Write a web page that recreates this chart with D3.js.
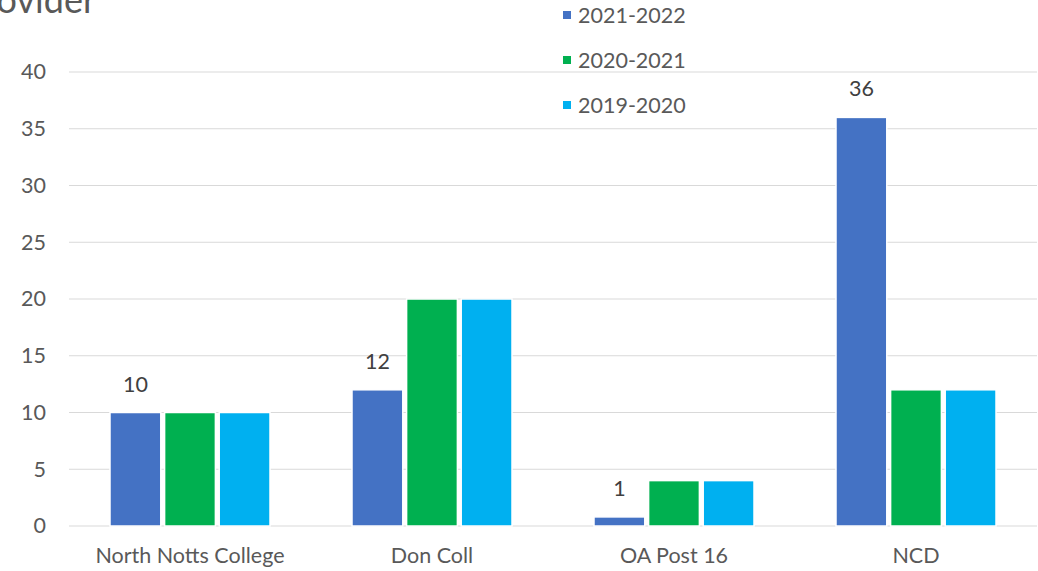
<!DOCTYPE html>
<html>
<head>
<meta charset="utf-8">
<script src="https://cdn.jsdelivr.net/npm/d3@7"></script>
<style>
  body { margin: 0; background: #fff; }
  text { font-family: Lato, "Open Sans", sans-serif; }
</style>
</head>
<body>
<div id="chart"></div>
<script>
const providers = ['North Notts College', 'Don Coll', 'OA Post 16', 'NCD']
const seriesNames = ['2021-2022', '2020-2021', '2019-2020']
const values2122 = [10, 12, 0.8, 36]
const values2021 = [10, 20, 4, 12]
const values1920 = [10, 20, 4, 12]
const labels2122 = ['10', '12', '1', '36']
const yTicks = [0, 5, 10, 15, 20, 25, 30, 35, 40]
const colors = ['#4472C4', '#00B050', '#00B0F0']

const fullWidth = 1038
const fullHeight = 571
const margin = { top: 72, right: 1, bottom: 45, left: 69 }
const width = fullWidth - margin.left - margin.right
const height = fullHeight - margin.top - margin.bottom
const fontSize = 21.5
const groupWidth = 160

const svg = d3.select('#chart')
    .append('svg')
    .attr('width', fullWidth)
    .attr('height', fullHeight)

// title, cut off at the left edge like in the source
svg.append('text')
    .attr('x', 96)
    .attr('y', 13)
    .attr('text-anchor', 'end')
    .attr('font-size', 36)
    .attr('fill', '#595959')
    .text('Provider')

const g = svg.append('g')
    .attr('transform', 'translate(' + margin.left + ',' + margin.top + ')')

const x = d3.scaleBand().domain(providers).range([0, width])
const xs = d3.scaleBand().domain(seriesNames).range([0, groupWidth]).paddingInner(0.07)
const y = d3.scaleLinear().domain([0, 40]).range([height, 0])

// gridlines
g.append('g')
    .selectAll('line')
    .data(yTicks)
    .enter().append('line')
    .attr('x1', 0)
    .attr('x2', width)
    .attr('y1', d => y(d))
    .attr('y2', d => y(d))
    .attr('stroke', '#d9d9d9')
    .attr('stroke-width', 1.2)

// y labels
g.append('g')
    .call(d3.axisLeft(y).tickValues(yTicks).tickSize(0).tickPadding(23))
    .call(a => a.select('.domain').remove())
    .selectAll('text')
    .attr('font-size', fontSize)
    .attr('fill', '#595959')
    .style('font-family', 'Lato, sans-serif')

// x labels
g.append('g')
    .attr('transform', 'translate(0,' + height + ')')
    .call(d3.axisBottom(x).tickSize(0).tickPadding(22))
    .call(a => a.select('.domain').remove())
    .selectAll('text')
    .attr('font-size', fontSize)
    .attr('fill', '#595959')
    .style('font-family', 'Lato, sans-serif')

const table = providers.map((p, i) => ({
    provider: p,
    vals: [values2122[i], values2021[i], values1920[i]]
}))

const groupOffset = (x.bandwidth() - groupWidth) / 2

const groups = g.selectAll('.grp')
    .data(table)
    .enter().append('g')
    .attr('class', 'grp')
    .attr('transform', d => 'translate(' + (x(d.provider) + groupOffset) + ',0)')

groups.selectAll('rect')
    .data(d => d.vals.map((v, k) => ({ v: v, s: seriesNames[k], k: k })))
    .enter().append('rect')
    .attr('x', d => xs(d.s))
    .attr('y', d => y(d.v))
    .attr('width', xs.bandwidth())
    .attr('height', d => height - y(d.v))
    .attr('fill', d => colors[d.k])
    .attr('stroke', '#fff')
    .attr('stroke-width', 1.5)

// data labels for the first series only
groups.append('text')
    .attr('x', xs(seriesNames[0]) + xs.bandwidth() / 2)
    .attr('y', (d, i) => y(values2122[i]) - 21)
    .attr('text-anchor', 'middle')
    .attr('font-size', fontSize)
    .attr('fill', '#404040')
    .text((d, i) => labels2122[i])

// legend
const legend = svg.append('g')
    .selectAll('g')
    .data(seriesNames)
    .enter().append('g')
    .attr('transform', (d, i) => 'translate(563,' + (15 + i * 45) + ')')

legend.append('rect')
    .attr('x', 0)
    .attr('y', -4)
    .attr('width', 8)
    .attr('height', 8)
    .attr('fill', (d, i) => colors[i])

legend.append('text')
    .attr('x', 15)
    .attr('y', 0)
    .attr('dy', '0.35em')
    .attr('font-size', fontSize)
    .attr('fill', '#595959')
    .text(d => d)
</script>
</body>
</html>
